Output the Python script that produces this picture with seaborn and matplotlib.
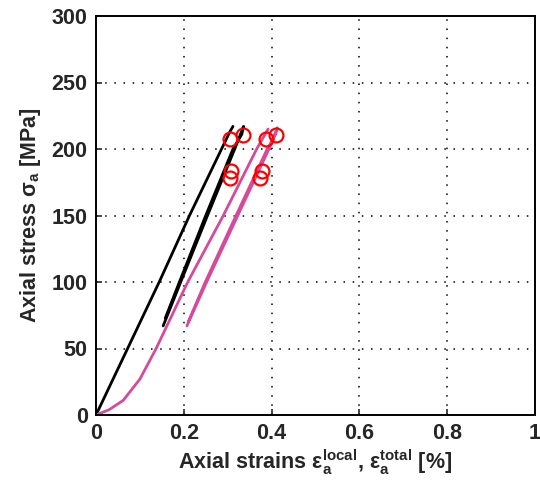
import pandas as pd
import matplotlib
matplotlib.use("Agg")
import matplotlib.pyplot as plt
import seaborn as sns

# local strain curves (black)
local_1_x = [0, 0.072, 0.144, 0.213, 0.286, 0.305, 0.312]
local_1_y = [0, 50, 100, 150, 200, 213, 217]
local_2_x = [0.153, 0.193, 0.254, 0.316, 0.336, 0.332, 0.312, 0.250, 0.190, 0.158]
local_2_y = [67, 100, 150, 200, 217, 211, 200, 150, 100, 73]

# total strain curves (magenta)
total_1_x = [0, 0.03, 0.062, 0.10, 0.137, 0.209, 0.290, 0.366, 0.392]
total_1_y = [0, 4, 11, 27, 50, 100, 150, 200, 215]
total_2_x = [0.207, 0.252, 0.323, 0.394, 0.413, 0.409, 0.390, 0.319, 0.249, 0.210]
total_2_y = [67, 100, 150, 200, 216, 211, 200, 150, 100, 70]

# marked points (red circles)
mark_x = [0.305, 0.335, 0.307, 0.305, 0.387, 0.410, 0.378, 0.374]
mark_y = [207.5, 210.5, 183.5, 178.0, 207.5, 210.5, 183.5, 178.0]

frames = []
for name, xs, ys in [("local_1", local_1_x, local_1_y), ("local_2", local_2_x, local_2_y),
                     ("total_1", total_1_x, total_1_y), ("total_2", total_2_x, total_2_y)]:
    frames.append(pd.DataFrame({"strain": xs, "stress": ys, "curve": name}))
df = pd.concat(frames, ignore_index=True)

sns.set_style("ticks")
plt.rcParams["font.family"] = ["Liberation Sans", "DejaVu Sans"]
plt.rcParams["font.weight"] = "bold"
plt.rcParams["axes.labelweight"] = "bold"
plt.rcParams["mathtext.fontset"] = "custom"
plt.rcParams["mathtext.rm"] = "Liberation Sans:bold"
plt.rcParams["mathtext.it"] = "Liberation Sans:bold"
plt.rcParams["mathtext.bf"] = "Liberation Sans:bold"
plt.rcParams["mathtext.default"] = "bf"

fig = plt.figure(figsize=(5.4, 4.96), dpi=100)
ax = fig.add_axes([96 / 540, 1 - 415 / 496, 439 / 540, 399 / 496])

palette = {"local_1": "black", "local_2": "black", "total_1": "#d54a9a", "total_2": "#d54a9a"}
sns.lineplot(data=df, x="strain", y="stress", hue="curve", palette=palette, sort=False,
             estimator=None, linewidth=2.0, legend=False, ax=ax)
ax.plot(mark_x, mark_y, "o", mfc="none", mec="#ff0000", ms=10, mew=1.6)

ax.set_xlim(0, 1)
ax.set_ylim(0, 300)
ax.set_xticks([0, 0.2, 0.4, 0.6, 0.8, 1])
ax.set_xticklabels(["0", "0.2", "0.4", "0.6", "0.8", "1"])
ax.set_yticks([0, 50, 100, 150, 200, 250, 300])
ax.grid(True, color="black", linestyle=(0, (1, 5)), linewidth=1.1)
ax.tick_params(direction="in", length=4, width=1.2, labelsize=15.5, pad=6)
for s in ax.spines.values():
    s.set_linewidth(1.4)
    s.set_color("black")

ax.set_xlabel("Axial strains ε$_a^{local}$, ε$_a^{total}$ [%]", fontsize=15.5,
              fontweight="bold", labelpad=2)
ax.set_ylabel("Axial stress σ$_a$ [MPa]", fontsize=15.5, fontweight="bold", labelpad=6)

plt.savefig("out.png", dpi=100)
plt.close()
